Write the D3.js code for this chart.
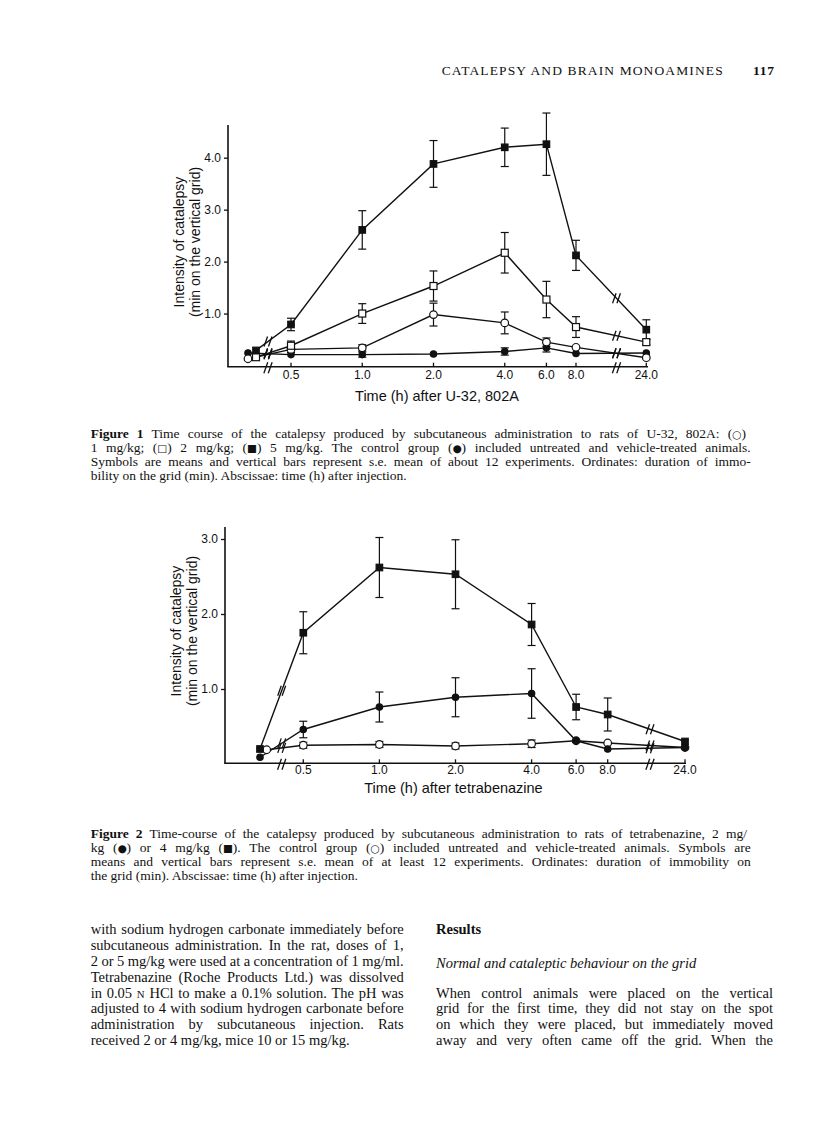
<!DOCTYPE html>
<html>
<head>
<meta charset="utf-8">
<script src="https://cdn.jsdelivr.net/npm/d3@7"></script>
<style>
  body { margin: 0; background: #fff; }
  svg { display: block; }
</style>
</head>
<body>
<script>
"use strict";

// ---- data -------------------------------------------------------------
// time points (h); 0 = value before injection, drawn left of the axis break
const times = [0, 0.5, 1, 2, 4, 6, 8, 24];
const tickTimes = [0.5, 1, 2, 4, 6, 8, 24];
const tickLabels = ["0.5", "1.0", "2.0", "4.0", "6.0", "8.0", "24.0"];
const yTicks1 = [1, 2, 3, 4];
const yTicks2 = [1, 2, 3];

// Figure 1 : U-32,802A
const f1Control = [0.24, 0.21, 0.21, 0.22, 0.27, 0.34, 0.23, 0.24];
const f1ControlErr = [0, 0, 0.05, 0, 0.07, 0.08, 0, 0];
const f1Dose1 = [0.13, 0.31, 0.34, 0.98, 0.82, 0.45, 0.35, 0.15];
const f1Dose1Err = [0, 0.06, 0.06, 0.22, 0.21, 0.08, 0, 0];
const f1Dose2 = [0.16, 0.38, 1.0, 1.53, 2.17, 1.27, 0.74, 0.45];
const f1Dose2Err = [0, 0.09, 0.19, 0.29, 0.39, 0.35, 0.2, 0.05];
const f1Dose5 = [0.29, 0.79, 2.61, 3.88, 4.2, 4.26, 2.12, 0.69];
const f1Dose5Err = [0, 0.12, 0.37, 0.45, 0.37, 0.6, 0.29, 0.19];

// Figure 2 : tetrabenazine
const f2Control = [0.19, 0.25, 0.26, 0.24, 0.27, 0.31, 0.28, 0.22];
const f2ControlErr = [0, 0.04, 0.04, 0.04, 0.05, 0, 0, 0];
const f2Dose2 = [0.09, 0.46, 0.76, 0.89, 0.94, 0.31, 0.2, 0.22];
const f2Dose2Err = [0, 0.11, 0.2, 0.26, 0.33, 0, 0, 0];
const f2Dose4 = [0.2, 1.75, 2.62, 2.53, 1.86, 0.76, 0.66, 0.3];
const f2Dose4Err = [0, 0.28, 0.4, 0.46, 0.28, 0.17, 0.22, 0];

// ---- page -------------------------------------------------------------
const SANS = "'Liberation Sans', Arial, Helvetica, sans-serif";
const SERIF = "'Liberation Serif', 'Times New Roman', serif";
const INK = "#111";

let svg = d3.select("body")
    .append("svg")
    .attr("width", 816)
    .attr("height", 1133);

svg.append("rect").attr("width", 816).attr("height", 1133).attr("fill", "#fff");

// one line of text; segs is a string or a list of {t, b, i, s}
// width given -> line is justified by stretching the word spaces
function addLine(parent, segs, x, y, size, width, family) {
    let t = parent.append("text")
        .attr("x", x)
        .attr("y", y)
        .attr("font-family", family || SERIF)
        .attr("font-size", size)
        .attr("fill", INK);
    if (typeof segs === "string") segs = [{t: segs}];
    let all = "";
    for (let sg of segs) {
        if (typeof sg === "string") sg = {t: sg};
        all += sg.t;
        // symbols in the captions come from a fallback font, keep them small
        let parts = sg.t.split(/([○□■●])/);
        for (let p of parts) {
            if (!p) continue;
            let ts = t.append("tspan").text(p);
            if (sg.b) ts.attr("font-weight", "bold");
            if (sg.i) ts.attr("font-style", "italic");
            if (sg.s) ts.attr("font-size", size * sg.s);
            if (/[○□■●]/.test(p)) {
                ts.attr("font-family", "'DejaVu Sans', sans-serif").attr("font-size", size * 0.78);
            }
        }
    }
    if (width) {
        let natural = t.node().getComputedTextLength();
        let gaps = (all.match(/ /g) || []).length;
        if (gaps > 0) t.attr("word-spacing", (width - natural) / gaps);
    }
    return t;
}

// running head
addLine(svg, "CATALEPSY AND BRAIN MONOAMINES", 441.7, 75, 13.5).attr("textLength", 281).attr("lengthAdjust", "spacing");
addLine(svg, [{t: "117", b: true}], 753, 75, 13.5).attr("textLength", 21).attr("lengthAdjust", "spacing");

// ---- figures ----------------------------------------------------------
function slashes(g, cx, cy, len) {
    let h = len / 2;
    for (let dx of [-2.2, 2.2]) {
        g.append("line")
            .attr("x1", cx + dx - h * 0.35)
            .attr("y1", cy + h)
            .attr("x2", cx + dx + h * 0.35)
            .attr("y2", cy - h)
            .attr("stroke", INK)
            .attr("stroke-width", 1.3);
    }
}

function drawFigure(cfg) {
    let g = svg.append("g").attr("class", cfg.name);

    let logX = d3.scaleLog().base(2).domain([0.5, 8]).range(cfg.logRange);
    let x = function (t) {
        if (t === 0) return cfg.preX;
        if (t === 24) return cfg.lateX;
        return logX(t);
    };
    let y = d3.scaleLinear().domain([0, cfg.yMax]).range(cfg.yRange);

    // axes
    g.append("line")
        .attr("x1", cfg.axisX).attr("x2", cfg.axisX)
        .attr("y1", cfg.axisTop).attr("y2", cfg.axisY)
        .attr("stroke", INK).attr("stroke-width", 1.6);
    g.append("line")
        .attr("x1", cfg.axisX - 0.8).attr("x2", cfg.axisRight)
        .attr("y1", cfg.axisY).attr("y2", cfg.axisY)
        .attr("stroke", INK).attr("stroke-width", 1.6);

    let yAxis = g.append("g")
        .attr("transform", "translate(" + cfg.axisX + ",0)")
        .call(d3.axisLeft(y).tickValues(cfg.yTicks).tickFormat(d3.format(".1f")).tickSize(4).tickPadding(3));
    yAxis.select(".domain").remove();
    yAxis.selectAll("line").attr("stroke", INK).attr("stroke-width", 1.3);
    yAxis.selectAll("text")
        .attr("font-family", SANS).attr("font-size", 12).attr("fill", INK);

    let xt = g.append("g").selectAll("g.tick")
        .data(tickTimes)
        .enter().append("g")
        .attr("transform", function (d) { return "translate(" + x(d) + "," + cfg.axisY + ")"; });
    xt.append("line").attr("y1", 0).attr("y2", -4)
        .attr("stroke", INK).attr("stroke-width", 1.3);
    xt.append("text")
        .attr("y", cfg.tickLabelDy)
        .attr("text-anchor", "middle")
        .attr("font-family", SANS).attr("font-size", 12).attr("fill", INK)
        .text(function (d, i) { return tickLabels[i]; });

    // axis breaks
    for (let bx of cfg.breakX) slashes(g, bx, cfg.axisY + 1, 11);

    // labels
    g.append("text")
        .attr("x", cfg.xLabelX).attr("y", cfg.xLabelY)
        .attr("text-anchor", "middle")
        .attr("font-family", SANS).attr("font-size", 14.5).attr("fill", INK)
        .text(cfg.xLabel);
    let yl = ["Intensity of catalepsy", "(min on the vertical grid)"];
    yl.forEach(function (s, i) {
        g.append("text")
            .attr("transform", "translate(" + cfg.yLabelX[i] + "," + cfg.yLabelY + ") rotate(-90)")
            .attr("text-anchor", "middle")
            .attr("font-family", SANS).attr("font-size", 14).attr("fill", INK)
            .text(s);
    });

    let line = d3.line()
        .x(function (d) { return d.px; })
        .y(function (d) { return y(d.v); });

    let all = cfg.series.map(function (s) {
        return times.map(function (t, i) {
            return {t: t, v: s.values[i], e: s.errors[i], px: x(t) + (t === 0 ? s.preDx : 0)};
        });
    });

    // lines, error bars and breaks
    cfg.series.forEach(function (s, k) {
        let pts = all[k];
        g.append("path")
            .attr("d", line(pts))
            .attr("fill", "none")
            .attr("stroke", INK)
            .attr("stroke-width", 1.4);

        let eb = g.append("g").selectAll("g")
            .data(pts.filter(function (d) { return d.e > 0; }))
            .enter().append("g");
        eb.append("line")
            .attr("x1", function (d) { return d.px; })
            .attr("x2", function (d) { return d.px; })
            .attr("y1", function (d) { return y(d.v - d.e); })
            .attr("y2", function (d) { return y(d.v + d.e); })
            .attr("stroke", INK).attr("stroke-width", 1.2);
        [-1, 1].forEach(function (sgn) {
            eb.append("line")
                .attr("x1", function (d) { return d.px - 4; })
                .attr("x2", function (d) { return d.px + 4; })
                .attr("y1", function (d) { return y(d.v + sgn * d.e); })
                .attr("y2", function (d) { return y(d.v + sgn * d.e); })
                .attr("stroke", INK).attr("stroke-width", 1.2);
        });

        for (let i = 1; i < pts.length; i++) {
            let a = pts[i - 1], b = pts[i];
            for (let bx of cfg.breakX) {
                if (a.px < bx && bx < b.px) {
                    let f = (bx - a.px) / (b.px - a.px);
                    let yy = y(a.v) + f * (y(b.v) - y(a.v));
                    slashes(g, bx, yy, 10);
                }
            }
        }
    });

    // markers
    cfg.series.forEach(function (s, k) {
        let m = g.append("g").selectAll(".m")
            .data(all[k])
            .enter();
        if (s.symbol === "square" || s.symbol === "openSquare") {
            let sz = s.symbol === "square" ? 6.5 : 7;
            m.append("rect")
                .attr("x", function (d) { return d.px - sz / 2; })
                .attr("y", function (d) { return y(d.v) - sz / 2; })
                .attr("width", sz).attr("height", sz)
                .attr("fill", s.symbol === "square" ? INK : "#fff")
                .attr("stroke", INK).attr("stroke-width", 1.2);
        } else {
            m.append("circle")
                .attr("cx", function (d) { return d.px; })
                .attr("cy", function (d) { return y(d.v); })
                .attr("r", s.symbol === "circle" ? 3.2 : 3.8)
                .attr("fill", s.symbol === "circle" ? INK : "#fff")
                .attr("stroke", INK).attr("stroke-width", 1.2);
        }
    });
}

drawFigure({
    name: "fig1",
    yMax: 4, yRange: [365.5, 157.7], yTicks: yTicks1,
    axisX: 228, axisTop: 125, axisY: 366.7, axisRight: 648,
    logRange: [291, 576], preX: 252, lateX: 646.3, breakX: [268, 616.5],
    tickLabelDy: 12.8,
    xLabel: "Time (h) after U-32, 802A", xLabelX: 437, xLabelY: 401,
    yLabelX: [184, 200], yLabelY: 242,
    series: [
        {values: f1Control, errors: f1ControlErr, symbol: "circle", preDx: -4},
        {values: f1Dose1, errors: f1Dose1Err, symbol: "openCircle", preDx: -4},
        {values: f1Dose2, errors: f1Dose2Err, symbol: "openSquare", preDx: 4},
        {values: f1Dose5, errors: f1Dose5Err, symbol: "square", preDx: 4}
    ]
});

drawFigure({
    name: "fig2",
    yMax: 3, yRange: [764, 539], yTicks: yTicks2,
    axisX: 225, axisTop: 527, axisY: 763.3, axisRight: 686,
    logRange: [303.3, 607.7], preX: 260, lateX: 685, breakX: [281.7, 650],
    tickLabelDy: 10.5,
    xLabel: "Time (h) after tetrabenazine", xLabelX: 453.5, xLabelY: 793,
    yLabelX: [181, 197], yLabelY: 631,
    series: [
        {values: f2Control, errors: f2ControlErr, symbol: "openCircle", preDx: 6.7},
        {values: f2Dose2, errors: f2Dose2Err, symbol: "circle", preDx: 0},
        {values: f2Dose4, errors: f2Dose4Err, symbol: "square", preDx: 0}
    ]
});

// ---- captions ---------------------------------------------------------
const cap1 = [
    [{t: "Figure 1", b: true}, "  Time course of the catalepsy produced by subcutaneous administration to rats of U-32, 802A: (○)"],
    ["1 mg/kg; (□) 2 mg/kg; (■) 5 mg/kg. The control group (●) included untreated and vehicle-treated animals."],
    ["Symbols are means and vertical bars represent s.e. mean of about 12 experiments. Ordinates: duration of immo-"],
    ["bility on the grid (min). Abscissae: time (h) after injection."]
];
const cap2 = [
    [{t: "Figure 2", b: true}, "  Time-course of the catalepsy produced by subcutaneous administration to rats of tetrabenazine, 2 mg/"],
    ["kg (●) or 4 mg/kg (■). The control group (○) included untreated and vehicle-treated animals. Symbols are"],
    ["means and vertical bars represent s.e. mean of at least 12 experiments. Ordinates: duration of immobility on"],
    ["the grid (min). Abscissae: time (h) after injection."]
];
cap1.forEach(function (segs, i) {
    addLine(svg, segs, 90.7, 437.7 + i * 14.1, 13.5, i < cap1.length - 1 ? 660 : null);
});
cap2.forEach(function (segs, i) {
    addLine(svg, segs, 90.7, 837.5 + i * 14.2, 13.5, i < cap2.length - 1 ? 660 : null);
});

// ---- body text --------------------------------------------------------
const leftCol = [
    ["with sodium hydrogen carbonate immediately before"],
    ["subcutaneous administration. In the rat, doses of 1,"],
    ["2 or 5 mg/kg were used at a concentration of 1 mg/ml."],
    ["Tetrabenazine (Roche Products Ltd.) was dissolved"],
    ["in 0.05 ", {t: "N", s: 0.75}, " HCl to make a 0.1% solution. The pH was"],
    ["adjusted to 4 with sodium hydrogen carbonate before"],
    ["administration by subcutaneous injection. Rats"],
    ["received 2 or 4 mg/kg, mice 10 or 15 mg/kg."]
];
const rightCol = [
    ["When control animals were placed on the vertical"],
    ["grid for the first time, they did not stay on the spot"],
    ["on which they were placed, but immediately moved"],
    ["away and very often came off the grid. When the"]
];
leftCol.forEach(function (segs, i) {
    addLine(svg, segs, 90.7, 934.3 + i * 15.8, 14.5, i < leftCol.length - 1 ? 313 : null);
});
addLine(svg, [{t: "Results", b: true}], 436, 934.3, 14.5, null);
addLine(svg, [{t: "Normal and cataleptic behaviour on the grid", i: true}], 436, 967.7, 14.5, null);
rightCol.forEach(function (segs, i) {
    addLine(svg, segs, 436, 997.5 + i * 15.8, 14.5, 337);
});
</script>
</body>
</html>
